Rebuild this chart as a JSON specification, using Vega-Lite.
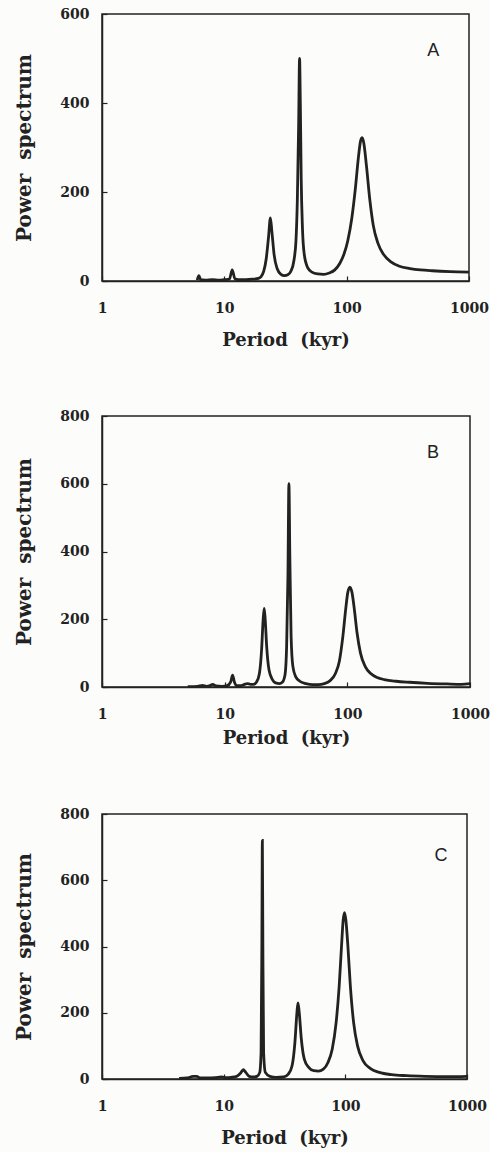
{
  "$schema": "https://vega.github.io/schema/vega-lite/v6.json",
  "background": "#fcfcfa",
  "padding": {"left": 14, "top": 6, "right": 5, "bottom": 5},
  "spacing": 58,
  "datasets": {
    "A": [
      {"period": 6.0, "power": 2}, {"period": 6.2, "power": 12}, {"period": 6.4, "power": 3},
      {"period": 7, "power": 2}, {"period": 8, "power": 3}, {"period": 9, "power": 2},
      {"period": 10, "power": 3}, {"period": 11, "power": 4}, {"period": 11.6, "power": 25},
      {"period": 12.2, "power": 5}, {"period": 13, "power": 3}, {"period": 15, "power": 3},
      {"period": 17, "power": 4}, {"period": 19, "power": 6}, {"period": 20, "power": 10},
      {"period": 21, "power": 22}, {"period": 22, "power": 50}, {"period": 23, "power": 100},
      {"period": 23.8, "power": 142}, {"period": 24.5, "power": 110}, {"period": 25.5, "power": 60},
      {"period": 27, "power": 28}, {"period": 29, "power": 15}, {"period": 31, "power": 12},
      {"period": 33, "power": 14}, {"period": 35, "power": 22}, {"period": 37, "power": 45},
      {"period": 38.5, "power": 90}, {"period": 39.5, "power": 180}, {"period": 40.5, "power": 350},
      {"period": 41.2, "power": 500}, {"period": 41.8, "power": 400}, {"period": 42.5, "power": 230},
      {"period": 43.5, "power": 120}, {"period": 45, "power": 60}, {"period": 48, "power": 30},
      {"period": 52, "power": 20}, {"period": 58, "power": 16}, {"period": 65, "power": 15},
      {"period": 72, "power": 18}, {"period": 80, "power": 25}, {"period": 88, "power": 40},
      {"period": 95, "power": 60}, {"period": 102, "power": 90}, {"period": 110, "power": 140},
      {"period": 118, "power": 210}, {"period": 125, "power": 280}, {"period": 130, "power": 315},
      {"period": 134, "power": 322}, {"period": 138, "power": 310}, {"period": 145, "power": 260},
      {"period": 155, "power": 180}, {"period": 165, "power": 125}, {"period": 180, "power": 85},
      {"period": 200, "power": 60}, {"period": 230, "power": 43}, {"period": 270, "power": 33},
      {"period": 330, "power": 28}, {"period": 400, "power": 25}, {"period": 500, "power": 23},
      {"period": 700, "power": 21}, {"period": 1000, "power": 20}
    ],
    "B": [
      {"period": 5, "power": 1}, {"period": 6, "power": 2}, {"period": 6.6, "power": 5},
      {"period": 7.1, "power": 2}, {"period": 7.6, "power": 4}, {"period": 8.0, "power": 8},
      {"period": 8.5, "power": 3}, {"period": 9.5, "power": 2}, {"period": 10.5, "power": 4},
      {"period": 11.2, "power": 15}, {"period": 11.6, "power": 35}, {"period": 12.0, "power": 15},
      {"period": 12.6, "power": 4}, {"period": 13.5, "power": 4}, {"period": 14.5, "power": 8},
      {"period": 15.3, "power": 10}, {"period": 16.2, "power": 8}, {"period": 17.2, "power": 8},
      {"period": 18.2, "power": 15}, {"period": 19.2, "power": 40}, {"period": 20.0, "power": 110},
      {"period": 20.6, "power": 200}, {"period": 21.0, "power": 232}, {"period": 21.4, "power": 200},
      {"period": 22.0, "power": 120}, {"period": 23.0, "power": 50}, {"period": 24.5, "power": 22},
      {"period": 26, "power": 12}, {"period": 28, "power": 10}, {"period": 29.5, "power": 14},
      {"period": 31, "power": 35}, {"period": 32, "power": 120}, {"period": 32.8, "power": 330},
      {"period": 33.4, "power": 600}, {"period": 34.0, "power": 380}, {"period": 34.8, "power": 150},
      {"period": 36, "power": 60}, {"period": 38, "power": 30}, {"period": 41, "power": 17},
      {"period": 46, "power": 10}, {"period": 52, "power": 7}, {"period": 58, "power": 7},
      {"period": 65, "power": 10}, {"period": 72, "power": 18}, {"period": 80, "power": 40},
      {"period": 86, "power": 75}, {"period": 92, "power": 150}, {"period": 97, "power": 230},
      {"period": 101, "power": 280}, {"period": 105, "power": 295}, {"period": 109, "power": 280},
      {"period": 114, "power": 230}, {"period": 120, "power": 160}, {"period": 128, "power": 100},
      {"period": 140, "power": 60}, {"period": 155, "power": 40}, {"period": 175, "power": 28},
      {"period": 200, "power": 22}, {"period": 250, "power": 17}, {"period": 320, "power": 14},
      {"period": 450, "power": 11}, {"period": 650, "power": 9}, {"period": 850, "power": 8},
      {"period": 1000, "power": 10}
    ],
    "C": [
      {"period": 4.3, "power": 2}, {"period": 5, "power": 3}, {"period": 5.6, "power": 8},
      {"period": 6.0, "power": 8}, {"period": 6.4, "power": 3}, {"period": 7.5, "power": 3},
      {"period": 8.5, "power": 4}, {"period": 9.6, "power": 6}, {"period": 10.5, "power": 4},
      {"period": 11.5, "power": 5}, {"period": 12.8, "power": 8}, {"period": 13.8, "power": 18},
      {"period": 14.5, "power": 28}, {"period": 15.2, "power": 20}, {"period": 16.2, "power": 8},
      {"period": 17.5, "power": 6}, {"period": 18.8, "power": 8}, {"period": 19.8, "power": 20},
      {"period": 20.3, "power": 80}, {"period": 20.6, "power": 400}, {"period": 20.8, "power": 720},
      {"period": 21.0, "power": 400}, {"period": 21.3, "power": 80}, {"period": 22, "power": 20},
      {"period": 24, "power": 8}, {"period": 27, "power": 5}, {"period": 31, "power": 6},
      {"period": 34, "power": 15}, {"period": 36.5, "power": 40}, {"period": 38.5, "power": 110},
      {"period": 40.0, "power": 200}, {"period": 40.8, "power": 230}, {"period": 41.8, "power": 200},
      {"period": 43.5, "power": 120}, {"period": 46, "power": 60}, {"period": 50, "power": 35},
      {"period": 55, "power": 25}, {"period": 60, "power": 24}, {"period": 66, "power": 30},
      {"period": 72, "power": 50}, {"period": 78, "power": 90}, {"period": 84, "power": 170},
      {"period": 89, "power": 280}, {"period": 93, "power": 400}, {"period": 96, "power": 480},
      {"period": 98.5, "power": 502}, {"period": 101, "power": 480}, {"period": 105, "power": 400},
      {"period": 110, "power": 280}, {"period": 117, "power": 170}, {"period": 126, "power": 100},
      {"period": 140, "power": 55}, {"period": 160, "power": 32}, {"period": 190, "power": 20},
      {"period": 240, "power": 13}, {"period": 320, "power": 10}, {"period": 450, "power": 8},
      {"period": 700, "power": 7}, {"period": 1000, "power": 8}
    ]
  },
  "vconcat": [
    {
      "width": 367, "height": 267,
      "layer": [
        {
          "data": {"name": "A"},
          "mark": {"type": "line", "color": "#222", "strokeWidth": 2.8, "interpolate": "monotone", "clip": true},
          "encoding": {
            "x": {"field": "period", "type": "quantitative", "scale": {"type": "log", "domain": [1, 1000]},
                  "axis": {"values": [1, 10, 100, 1000], "format": "d", "title": "Period\u00a0 (kyr)"}},
            "y": {"field": "power", "type": "quantitative", "scale": {"domain": [0, 600]},
                  "axis": {"values": [0, 200, 400, 600], "title": "Power\u00a0 spectrum"}}
          }
        },
        {
          "data": {"values": [{"period": 510, "power": 517, "label": "A"}]},
          "mark": {"type": "text", "font": "Liberation Sans", "fontSize": 18, "color": "#222"},
          "encoding": {
            "x": {"field": "period", "type": "quantitative"},
            "y": {"field": "power", "type": "quantitative"},
            "text": {"field": "label"}
          }
        }
      ]
    },
    {
      "width": 368, "height": 271,
      "layer": [
        {
          "data": {"name": "B"},
          "mark": {"type": "line", "color": "#222", "strokeWidth": 2.8, "interpolate": "monotone", "clip": true},
          "encoding": {
            "x": {"field": "period", "type": "quantitative", "scale": {"type": "log", "domain": [1, 1000]},
                  "axis": {"values": [1, 10, 100, 1000], "format": "d", "title": "Period\u00a0 (kyr)", "titlePadding": 8}},
            "y": {"field": "power", "type": "quantitative", "scale": {"domain": [0, 800]},
                  "axis": {"values": [0, 200, 400, 600, 800], "title": "Power\u00a0 spectrum"}}
          }
        },
        {
          "data": {"values": [{"period": 500, "power": 690, "label": "B"}]},
          "mark": {"type": "text", "font": "Liberation Sans", "fontSize": 18, "color": "#222"},
          "encoding": {
            "x": {"field": "period", "type": "quantitative"},
            "y": {"field": "power", "type": "quantitative"},
            "text": {"field": "label"}
          }
        }
      ]
    },
    {
      "width": 365, "height": 265,
      "layer": [
        {
          "data": {"name": "C"},
          "mark": {"type": "line", "color": "#222", "strokeWidth": 2.8, "interpolate": "monotone", "clip": true},
          "encoding": {
            "x": {"field": "period", "type": "quantitative", "scale": {"type": "log", "domain": [1, 1000]},
                  "axis": {"values": [1, 10, 100, 1000], "format": "d", "title": "Period\u00a0 (kyr)"}},
            "y": {"field": "power", "type": "quantitative", "scale": {"domain": [0, 800]},
                  "axis": {"values": [0, 200, 400, 600, 800], "title": "Power\u00a0 spectrum"}}
          }
        },
        {
          "data": {"values": [{"period": 610, "power": 674, "label": "C"}]},
          "mark": {"type": "text", "font": "Liberation Sans", "fontSize": 18, "color": "#222"},
          "encoding": {
            "x": {"field": "period", "type": "quantitative"},
            "y": {"field": "power", "type": "quantitative"},
            "text": {"field": "label"}
          }
        }
      ]
    }
  ],
  "config": {
    "view": {"stroke": "#222", "strokeWidth": 1.5},
    "axis": {
      "grid": false, "domainColor": "#222", "domainWidth": 1.5, "tickColor": "#222", "tickWidth": 1.2,
      "tickSize": -5, "labelFlush": false,
      "labelFont": "DejaVu Serif", "labelFontWeight": "bold", "labelFontSize": 14, "labelColor": "#222",
      "titleFont": "DejaVu Serif", "titleFontWeight": "bold", "titleColor": "#222"
    },
    "axisX": {"labelPadding": 25, "titleFontSize": 18, "titlePadding": 16},
    "axisY": {"labelPadding": 18, "titleFontSize": 20, "titlePadding": 25}
  }
}
